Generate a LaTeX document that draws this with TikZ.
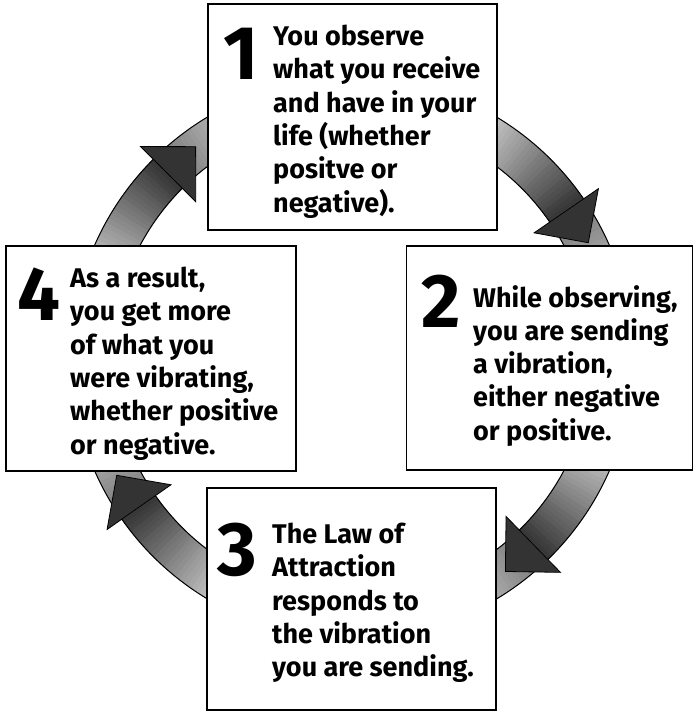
\documentclass[tikz,border=0pt]{standalone}
\usepackage{fontspec}
\setmainfont{Fira Sans}
\tikzset{
  stepbox/.style={draw,line width=1.3pt,fill=white,inner sep=0pt},
  bignum/.style={anchor=north,inner sep=0pt,font=\fontsize{76}{76}\selectfont\bfseries},
  steptext/.style={anchor=north west,align=left,inner sep=0pt,
    font=\fontsize{27}{33.3}\selectfont\bfseries},
  ringline/.style={line width=1pt}
}
\begin{document}
\begin{tikzpicture}[x=1pt,y=1pt]
  \useasboundingbox (0,0) rectangle (695,713);
  \fill[white] (0,0) rectangle (695,713);

  % the ring, one shaded arrow per quarter
  \begin{scope}[shift={(352,355)}]
    \foreach \b in {135,34.5,-45.8,215}{
      \foreach \k in {0,...,29}{
        \pgfmathsetmacro\aa{\b+30-\k}
        \pgfmathsetmacro\ab{\b+29-\k}
        \pgfmathtruncatemacro\p{12+2.3*\k}
        \filldraw[black!\p!white,line width=0.5pt] (\aa:240pt)
          arc[start angle=\aa,end angle=\ab,radius=240pt] -- (\ab:281pt)
          arc[start angle=\ab,end angle=\aa,radius=281pt] -- cycle;
      }
      \foreach \k in {0,...,24}{
        \pgfmathsetmacro\aa{\b-\k}
        \pgfmathsetmacro\ab{\b-1-\k}
        \pgfmathtruncatemacro\p{55-1.6*\k}
        \filldraw[black!\p!white,line width=0.5pt] (\aa:240pt)
          arc[start angle=\aa,end angle=\ab,radius=240pt] -- (\ab:281pt)
          arc[start angle=\ab,end angle=\aa,radius=281pt] -- cycle;
      }
      \draw[ringline] (\b+30:281pt) arc[start angle=\b+30,end angle=\b-25,radius=281pt];
      \draw[ringline] (\b+30:240pt) arc[start angle=\b+30,end angle=\b-25,radius=240pt];
      \filldraw[fill=black!80,line width=0.8pt]
        (\b:221pt) -- (\b:299pt) -- (\b-8.5:262.9pt) -- cycle;
    }
  \end{scope}

  \node[stepbox,minimum width=289,minimum height=226] (b1) at (352.5,596) {};
  \node[stepbox,minimum width=286,minimum height=224] (b2) at (549.5,355) {};
  \node[stepbox,minimum width=289,minimum height=222] (b3) at (351.5,114) {};
  \node[stepbox,minimum width=290,minimum height=225] (b4) at (151,354.5) {};

  \node[bignum] (n1) at (241,685) {1};
  \node[bignum] (n2) at (441,438) {2};
  \node[bignum] (n3) at (237.5,190) {3};
  \node[bignum] (n4) at (38.5,445) {4};

  \node[steptext] (t1) at (273,688) {You observe\\what you receive\\and have in your\\life (whether\\positve or\\negative).};
  \node[steptext] (t2) at (473,428) {While observing,\\you are sending\\a vibration,\\either negative\\or positive.};
  \node[steptext] (t3) at (272,190) {The Law of\\Attraction\\responds to\\the vibration\\you are sending.};
  \node[steptext] (t4) at (70,446) {As a result,\\you get more\\of what you\\were vibrating,\\whether positive\\or negative.};
\end{tikzpicture}
\end{document}
